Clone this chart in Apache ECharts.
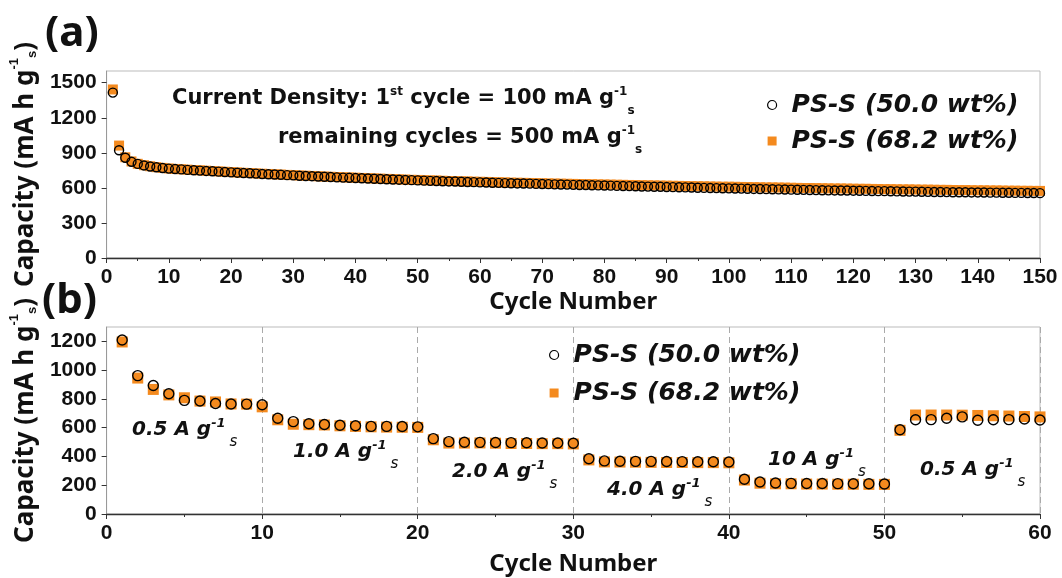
<!DOCTYPE html>
<html>
<head>
<meta charset="utf-8">
<script src="https://cdn.jsdelivr.net/npm/echarts@6/dist/echarts.min.js"></script>
<style>
html, body { margin: 0; padding: 0; background: #fff; }
#chart { width: 1062px; height: 578px; }
</style>
</head>
<body>
<div id="chart"></div>
<script>
// (a) cycling at 500 mA/g, cycles 1..150
const capA50 = [
  1415, 922, 858, 823, 805, 792, 783, 776, 770, 765,
  761, 758, 754, 751, 748, 745, 742, 739, 736, 733,
  730, 727, 725, 722, 719, 717, 714, 712, 709, 707,
  704, 702, 700, 697, 695, 693, 690, 688, 686, 684,
  682, 680, 678, 676, 674, 672, 670, 668, 666, 664,
  662, 660, 659, 657, 655, 654, 652, 650, 649, 647,
  646, 644, 643, 641, 640, 638, 637, 636, 634, 633,
  632, 630, 629, 628, 626, 625, 624, 622, 621, 620,
  619, 617, 616, 615, 614, 612, 611, 610, 609, 607,
  606, 605, 604, 603, 601, 600, 599, 598, 597, 596,
  595, 594, 592, 591, 590, 589, 588, 587, 586, 585,
  584, 583, 582, 581, 580, 579, 578, 577, 577, 576,
  575, 574, 573, 572, 572, 571, 570, 569, 568, 568,
  567, 566, 565, 565, 564, 563, 563, 562, 561, 561,
  560, 559, 559, 558, 558, 557, 557, 556, 556, 555
];
const capA68 = [
  1442, 962, 862, 826, 806, 794, 785, 777, 771, 766,
  762, 759, 756, 753, 750, 747, 744, 741, 738, 735,
  732, 729, 727, 724, 721, 719, 716, 714, 711, 709,
  706, 704, 702, 699, 697, 695, 693, 691, 689, 687,
  685, 683, 681, 679, 677, 675, 673, 671, 669, 668,
  666, 664, 663, 661, 659, 658, 656, 655, 653, 652,
  651, 649, 648, 647, 645, 644, 643, 642, 641, 639,
  638, 637, 636, 635, 634, 633, 632, 631, 630, 629,
  628, 627, 626, 625, 624, 623, 622, 621, 620, 619,
  618, 617, 616, 615, 614, 613, 612, 611, 610, 610,
  609, 608, 607, 606, 605, 604, 604, 603, 602, 601,
  600, 599, 599, 598, 597, 596, 595, 595, 594, 593,
  592, 592, 591, 590, 589, 589, 588, 587, 587, 586,
  585, 585, 584, 583, 583, 582, 581, 581, 580, 579,
  579, 578, 578, 577, 576, 576, 575, 575, 574, 574
];
// (b) rate capability, cycles 1..60
const rate50 = [
  1210, 962, 893, 836, 790, 786, 768, 765, 764, 760,
  666, 642, 627, 622, 617, 613, 609, 609, 608, 606,
  524, 503, 499, 498, 497, 496, 495, 494, 494, 492,
  384, 369, 367, 366, 366, 365, 364, 363, 363, 362,
  242, 222, 215, 213, 212, 212, 211, 210, 210, 209,
  586, 655, 656, 666, 675, 652, 655, 656, 660, 653
];
const rate68 = [
  1196, 945, 866, 828, 808, 785, 779, 765, 764, 745,
  655, 624, 621, 619, 613, 609, 606, 604, 603, 602,
  516, 493, 493, 494, 492, 490, 490, 489, 489, 487,
  376, 362, 361, 360, 359, 358, 358, 357, 357, 356,
  236, 214, 210, 210, 208, 208, 207, 207, 206, 206,
  582, 688, 688, 688, 687, 685, 683, 681, 678, 675
];
const yTicksA = [0, 300, 600, 900, 1200, 1500];
const yTicksB = [0, 200, 400, 600, 800, 1000, 1200];
const rateNames = ['0.5', '1.0', '2.0', '4.0', '10', '0.5'];
const rateLabelPos = [[132, 430], [293, 452], [452, 472], [607, 490], [768, 460], [920, 470]];

const N50 = 'PS-S (50.0 wt%)';
const N68 = 'PS-S (68.2 wt%)';
const ORANGE = '#F48A1E';

const tickFont = { fontFamily: 'Liberation Sans', fontWeight: 'bold', fontSize: 21, color: '#111' };
const nameFont = { fontFamily: 'Noto Sans', fontWeight: 'bold', fontSize: 24, color: '#111' };
const yNameRich = {
  t: { fontFamily: 'Noto Sans', fontWeight: 'bold', fontSize: 26, color: '#111', lineHeight: 36 },
  sup: { fontFamily: 'Liberation Sans', fontSize: 13, color: '#111', verticalAlign: 'top' },
  sub: { fontFamily: 'Liberation Sans', fontSize: 13, color: '#111', verticalAlign: 'bottom', padding: [0, 0, 5, 0] }
};
const plain = v => String(v);

function xAxis(grid, max, gap, dashed) {
  return {
    type: 'value', gridIndex: grid, min: 0, max: max, interval: 10,
    name: 'Cycle Number', nameLocation: 'middle', nameGap: gap, nameTextStyle: nameFont,
    axisLine: { lineStyle: { color: '#333', width: 1.3 } },
    axisTick: { length: 5, lineStyle: { color: '#333' } },
    minorTick: { show: true, splitNumber: 2, length: 3, lineStyle: { color: '#333' } },
    axisLabel: Object.assign({ margin: 9, formatter: plain }, tickFont),
    splitLine: { show: dashed, lineStyle: { color: '#aaa', type: [6, 4], width: 1 } }
  };
}
function yAxis(grid, max, ticks) {
  return {
    type: 'value', gridIndex: grid, min: 0, max: max,
    name: '{t|Capacity (mA h g}{sup|-1}{sub|s}{t|)}', nameLocation: 'middle', nameGap: 52,
    nameTextStyle: Object.assign({ rich: yNameRich }, nameFont),
    axisLine: { show: true, lineStyle: { color: '#999', width: 1 } },
    axisTick: { show: true, length: 5, customValues: ticks, lineStyle: { color: '#333' } },
    axisLabel: Object.assign({ margin: 10, customValues: ticks, formatter: plain }, tickFont),
    splitLine: { show: false }
  };
}
function squares(name, x, y, vals, size) {
  return {
    name: name, type: 'scatter', xAxisIndex: x, yAxisIndex: y, symbol: 'rect', symbolSize: size,
    itemStyle: { color: ORANGE, opacity: 1 }, z: 2,
    data: vals.map((v, i) => [i + 1, v])
  };
}
function circles(name, x, y, vals, size) {
  return {
    name: name, type: 'scatter', xAxisIndex: x, yAxisIndex: y, symbol: 'circle', symbolSize: size,
    itemStyle: { color: 'transparent', borderColor: '#000', borderWidth: 1.4, opacity: 1 }, z: 3,
    data: vals.map((v, i) => [i + 1, v])
  };
}
function legend(left, top, gap) {
  return {
    orient: 'vertical', left: left, top: top, itemWidth: 9, itemHeight: 9, itemGap: gap,
    selectedMode: false,
    textStyle: { fontFamily: 'DejaVu Sans', fontWeight: 'bold', fontStyle: 'italic', fontSize: 25, color: '#111', lineHeight: 30, padding: [0, 0, 0, 10] },
    data: [
      { name: N50, icon: 'circle', itemStyle: { color: '#fff', borderColor: '#000', borderWidth: 1.2 } },
      { name: N68, icon: 'rect', itemStyle: { color: ORANGE, borderWidth: 0 } }
    ]
  };
}

const annRich = {
  t: { fontFamily: 'DejaVu Sans', fontWeight: 'bold', fontSize: 21, fill: '#111', lineHeight: 36 },
  sup: { fontFamily: 'DejaVu Sans', fontWeight: 'bold', fontSize: 12, fill: '#111', verticalAlign: 'top', padding: [5, 0, 0, 0] },
  sub: { fontFamily: 'DejaVu Sans', fontWeight: 'bold', fontSize: 12, fill: '#111', verticalAlign: 'bottom' }
};
const rateRich = {
  t: { fontFamily: 'DejaVu Sans', fontWeight: 'bold', fontStyle: 'italic', fontSize: 20, fill: '#111', lineHeight: 39 },
  sup: { fontFamily: 'DejaVu Sans', fontWeight: 'bold', fontStyle: 'italic', fontSize: 13, fill: '#111', verticalAlign: 'top', padding: [7, 0, 0, 0] },
  sub: { fontFamily: 'DejaVu Sans', fontStyle: 'italic', fontSize: 15, fill: '#111', verticalAlign: 'bottom', padding: [0, 0, 0, 4] }
};

const graphics = [
  { type: 'text', x: 45, y: 34, style: { text: '(a)', fontFamily: 'Noto Sans', fontWeight: 'bold', fontSize: 42, fill: '#111', verticalAlign: 'middle' } },
  { type: 'text', x: 42, y: 301, style: { text: '(b)', fontFamily: 'Noto Sans', fontWeight: 'bold', fontSize: 42, fill: '#111', verticalAlign: 'middle' } },
  { type: 'text', x: 172, y: 99, style: { text: '{t|Current Density: 1}{sup|st}{t| cycle = 100 mA g}{sup|-1}{sub|s}', rich: annRich, verticalAlign: 'middle' } },
  { type: 'text', x: 278, y: 138, style: { text: '{t|remaining cycles = 500 mA g}{sup|-1}{sub|s}', rich: annRich, verticalAlign: 'middle' } }
];
rateNames.forEach((r, i) => {
  graphics.push({
    type: 'text', x: rateLabelPos[i][0], y: rateLabelPos[i][1],
    style: { text: '{t|' + r + ' A g}{sup|-1}{sub|s}', rich: rateRich, verticalAlign: 'middle' }
  });
});

const chart = echarts.init(document.getElementById('chart'), null, { renderer: 'canvas' });
chart.setOption({
  animation: false,
  backgroundColor: '#fff',
  grid: [
    { left: 103, right: 22, top: 71, height: 187, show: true, borderColor: '#bbb', borderWidth: 1 },
    { left: 103, right: 22, top: 327, height: 187, show: true, borderColor: '#bbb', borderWidth: 1 }
  ],
  xAxis: [xAxis(0, 150, 32, false), xAxis(1, 60, 38, true)],
  yAxis: [yAxis(0, 1600, yTicksA), yAxis(1, 1300, yTicksB)],
  legend: [legend(762, 85, 6), legend(544, 335, 8)],
  series: [
    squares(N68, 0, 0, capA68, 10),
    circles(N50, 0, 0, capA50, 9),
    squares(N68, 1, 1, rate68, 11),
    circles(N50, 1, 1, rate50, 10)
  ],
  graphic: graphics
});
</script>
</body>
</html>
